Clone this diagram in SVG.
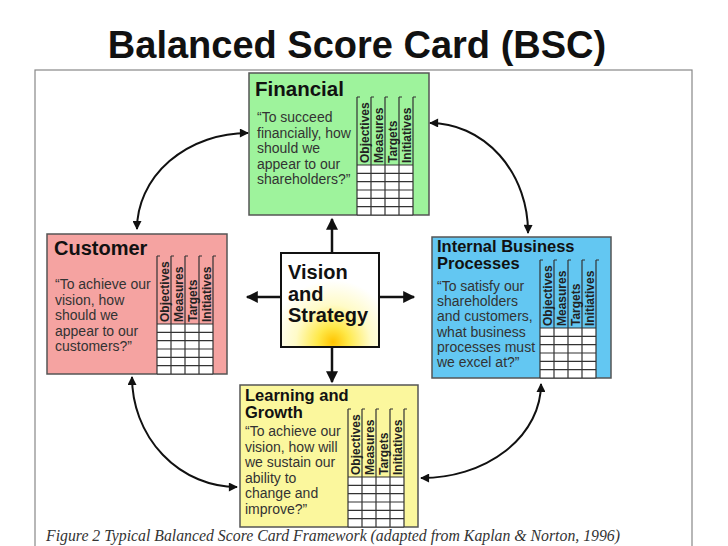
<svg xmlns="http://www.w3.org/2000/svg" xmlns:xlink="http://www.w3.org/1999/xlink" width="728" height="546" viewBox="0 0 728 546">
<style>
.box{stroke:#555;stroke-width:1.5}
.ttl{font-family:"Liberation Sans",Arial,sans-serif;font-weight:bold;fill:#111}
.q{font-family:"Liberation Sans",Arial,sans-serif;font-size:14px;fill:#333}
.hdr{font-family:"Liberation Sans",Arial,sans-serif;font-weight:bold;font-size:12px;fill:#222}
.gl{stroke:#333;stroke-width:1.2;fill:none}
.con{stroke:#111;fill:none}
</style>
<defs>
<marker id="ah" viewBox="0 0 10 10" refX="9" refY="5" markerWidth="10" markerHeight="9" markerUnits="userSpaceOnUse" orient="auto-start-reverse">
<path d="M0,0 L10,5 L0,10 z" fill="#111"/>
</marker>
<marker id="ahb" viewBox="0 0 10 10" refX="9" refY="5" markerWidth="13" markerHeight="12" markerUnits="userSpaceOnUse" orient="auto">
<path d="M0,0 L10,5 L0,10 z" fill="#111"/>
</marker>
<radialGradient id="glow" gradientUnits="userSpaceOnUse" cx="333" cy="342" r="62">
<stop offset="0" stop-color="#ffc400"/>
<stop offset="0.25" stop-color="#ffe94a"/>
<stop offset="0.6" stop-color="#fffbc8"/>
<stop offset="1" stop-color="#ffffff"/>
</radialGradient>
<g id="tbl">
<rect x="0" y="68" width="56" height="50" fill="#fff"/>
<path class="gl" d="M0,0V118M14,0V118M28,0V118M42,0V118M56,0V118M0,0h3M14,0h3M28,0h3M42,0h3M56,0h3M0,68H56M0,76.3H56M0,84.7H56M0,93H56M0,101.3H56M0,109.7H56M0,118H56"/>
<text class="hdr" transform="translate(12,66) rotate(-90)">Objectives</text>
<text class="hdr" transform="translate(26,66) rotate(-90)">Measures</text>
<text class="hdr" transform="translate(40,66) rotate(-90)">Targets</text>
<text class="hdr" transform="translate(54,66) rotate(-90)">Initiatives</text>
</g>
</defs>
<rect width="728" height="546" fill="#fff"/>
<text x="357" y="58" text-anchor="middle" class="ttl" style="font-size:38px" fill="#000">Balanced Score Card (BSC)</text>
<rect x="35" y="70" width="657" height="500" fill="none" stroke="#888" stroke-width="1.2"/>

<g id="financial">
<rect class="box" x="249" y="73" width="180" height="142" fill="#9ef39c"/>
<text class="ttl" x="255" y="96" style="font-size:20.5px">Financial</text>
<text class="q" x="257" y="122">“To succeed</text>
<text class="q" x="257" y="137.5">financially, how</text>
<text class="q" x="257" y="153">should we</text>
<text class="q" x="257" y="168.5">appear to our</text>
<text class="q" x="257" y="184">shareholders?”</text>
<use xlink:href="#tbl" x="357" y="97"/>
</g>

<g id="customer">
<rect class="box" x="47" y="234" width="180" height="140" fill="#f5a3a1"/>
<text class="ttl" x="54" y="255" style="font-size:20px">Customer</text>
<text class="q" x="55" y="289">“To achieve our</text>
<text class="q" x="55" y="304.5">vision, how</text>
<text class="q" x="55" y="320">should we</text>
<text class="q" x="55" y="335.5">appear to our</text>
<text class="q" x="55" y="351">customers?”</text>
<use xlink:href="#tbl" x="157" y="256"/>
</g>

<g id="internal">
<rect class="box" x="432" y="237" width="179" height="141" fill="#63c7f2"/>
<text class="ttl" x="437" y="252" style="font-size:16.5px">Internal Business</text>
<text class="ttl" x="437" y="269" style="font-size:16.5px">Processes</text>
<text class="q" x="437" y="291">“To satisfy our</text>
<text class="q" x="437" y="306">shareholders</text>
<text class="q" x="437" y="321">and customers,</text>
<text class="q" x="437" y="336.5">what business</text>
<text class="q" x="437" y="352">processes must</text>
<text class="q" x="437" y="367">we excel at?”</text>
<use xlink:href="#tbl" x="540" y="260"/>
</g>

<g id="learning">
<rect class="box" x="240" y="385" width="178" height="142" fill="#fbf79d"/>
<text class="ttl" x="245" y="401" style="font-size:16.5px">Learning and</text>
<text class="ttl" x="245" y="418" style="font-size:16.5px">Growth</text>
<text class="q" x="245" y="436">“To achieve our</text>
<text class="q" x="245" y="451.5">vision, how will</text>
<text class="q" x="245" y="467">we sustain our</text>
<text class="q" x="245" y="482.5">ability to</text>
<text class="q" x="245" y="498">change and</text>
<text class="q" x="245" y="513.5">improve?”</text>
<use xlink:href="#tbl" x="348" y="409"/>
</g>

<g id="vision">
<rect x="281" y="253" width="98" height="94" fill="url(#glow)" stroke="#111" stroke-width="2"/>
<text class="ttl" x="288" y="279" style="font-size:20px">Vision</text>
<text class="ttl" x="288" y="301" style="font-size:20px">and</text>
<text class="ttl" x="288" y="322" style="font-size:20px">Strategy</text>
</g>

<g id="connectors">
<path class="con" stroke-width="2.5" marker-end="url(#ahb)" d="M332,253 V219"/>
<path class="con" stroke-width="2.5" marker-end="url(#ahb)" d="M332,347 V382"/>
<path class="con" stroke-width="2.5" marker-end="url(#ahb)" d="M281,297 H247"/>
<path class="con" stroke-width="2.5" marker-end="url(#ahb)" d="M379,297 H414"/>
<path class="con" stroke-width="2" marker-start="url(#ah)" marker-end="url(#ah)" d="M137,229 A111,96 0 0 1 248,133"/>
<path class="con" stroke-width="2" marker-start="url(#ah)" marker-end="url(#ah)" d="M430,123 A98,109 0 0 1 528,233"/>
<path class="con" stroke-width="2" marker-start="url(#ah)" marker-end="url(#ah)" d="M541,384 A119,94 0 0 1 421,478"/>
<path class="con" stroke-width="2" marker-start="url(#ah)" marker-end="url(#ah)" d="M237,487 A105,110 0 0 1 132,377"/>
</g>

<text x="46" y="541" textLength="574" lengthAdjust="spacingAndGlyphs" style="font-family:'Liberation Serif','Times New Roman',serif;font-style:italic;font-size:16px" fill="#333">Figure 2 Typical Balanced Score Card Framework (adapted from Kaplan &amp; Norton, 1996)</text>
</svg>
